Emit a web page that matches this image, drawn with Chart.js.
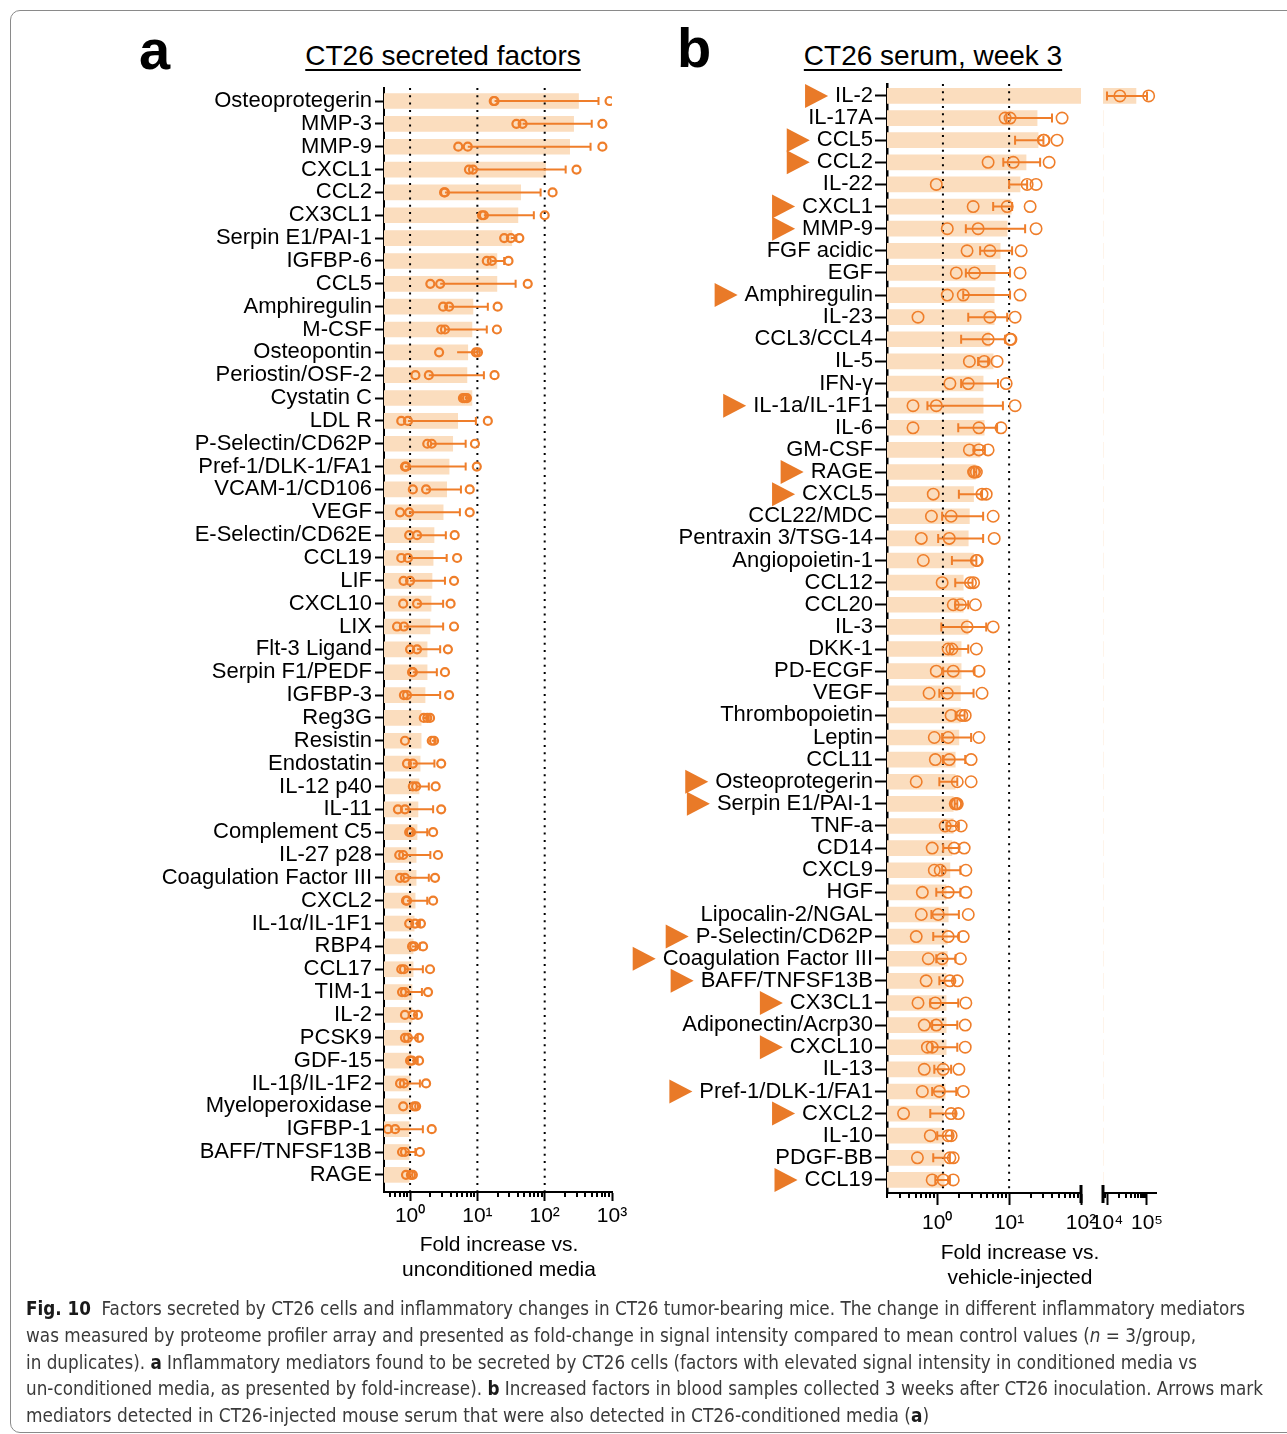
<!DOCTYPE html>
<html>
<head>
<meta charset="utf-8">
<script src="https://cdn.jsdelivr.net/npm/chart.js@4.4.0/dist/chart.umd.min.js"></script>
<style>
  body { margin: 0; background: #fff; width: 1287px; height: 1434px; position: relative; overflow: hidden;
         font-family: "Liberation Sans", Arial, sans-serif; color: #000; }
  .frame { position: absolute; left: 10px; top: 10px; width: 1290px; height: 1421px; border: 1px solid #8a8a8a; border-radius: 10px; }
  .box { position: absolute; top: 0; height: 1300px; }
  .letter { position: absolute; font-weight: bold; font-size: 56px; line-height: 56px; }
  .title { position: absolute; font-size: 28px; line-height: 28px; transform: translateX(-50%); white-space: nowrap;
           text-decoration: underline; text-decoration-thickness: 2px; text-underline-offset: 4px; }
  .axtitle { position: absolute; font-size: 21px; line-height: 25px; text-align: center; transform: translateX(-50%); white-space: nowrap; }
  .caption { position: absolute; left: 26px; top: 1295px; font-family: "Liberation Sans Narrow", "DejaVu Sans Condensed", sans-serif;
             font-size: 19px; line-height: 26.75px; color: #3a3a3a; }
  .caption div { white-space: nowrap; }
  .caption span.l { display: inline-block; transform-origin: 0 0; }
  .caption b { color: #1a1a1a; }
</style>
</head>
<body>
<div class="frame"></div>

<div class="letter" style="left:139px; top:22px;">a</div>
<div class="title" style="left:443px; top:42px;">CT26 secreted factors</div>
<div class="letter" style="left:677px; top:20px;">b</div>
<div class="title" style="left:933px; top:42px;">CT26 serum, week 3</div>

<div class="box" style="left:0; width:640px;"><canvas id="chartA" width="640" height="1300"></canvas></div>
<div class="box" style="left:600px; width:520px;"><canvas id="chartB" width="520" height="1300"></canvas></div>
<div class="box" style="left:1070px; width:120px;"><canvas id="chartB2" width="120" height="1300"></canvas></div>

<div class="axtitle" style="left:499px; top:1231px;">Fold increase vs.<br>unconditioned media</div>
<div class="axtitle" style="left:1020px; top:1239px;">Fold increase vs.<br>vehicle-injected</div>

<div class="caption">
  <div><span class="l" data-w="1219"><b>Fig. 10</b>&nbsp; Factors secreted by CT26 cells and inflammatory changes in CT26 tumor-bearing mice. The change in different inflammatory mediators</span></div>
  <div><span class="l" data-w="1170">was measured by proteome profiler array and presented as fold-change in signal intensity compared to mean control values (<i>n</i> = 3/group,</span></div>
  <div><span class="l" data-w="1171">in duplicates). <b>a</b> Inflammatory mediators found to be secreted by CT26 cells (factors with elevated signal intensity in conditioned media vs</span></div>
  <div><span class="l" data-w="1237">un-conditioned media, as presented by fold-increase). <b>b</b> Increased factors in blood samples collected 3 weeks after CT26 inoculation. Arrows mark</span></div>
  <div><span class="l" data-w="903">mediators detected in CT26-injected mouse serum that were also detected in CT26-conditioned media (<b>a</b>)</span></div>
</div>

<script>
// Panel a: CT26 secreted factors
const namesA = ["Osteoprotegerin", "MMP-3", "MMP-9", "CXCL1", "CCL2", "CX3CL1", "Serpin E1/PAI-1", "IGFBP-6", "CCL5",
  "Amphiregulin", "M-CSF", "Osteopontin", "Periostin/OSF-2", "Cystatin C", "LDL R", "P-Selectin/CD62P", "Pref-1/DLK-1/FA1",
  "VCAM-1/CD106", "VEGF", "E-Selectin/CD62E", "CCL19", "LIF", "CXCL10", "LIX", "Flt-3 Ligand", "Serpin F1/PEDF", "IGFBP-3",
  "Reg3G", "Resistin", "Endostatin", "IL-12 p40", "IL-11", "Complement C5", "IL-27 p28", "Coagulation Factor III", "CXCL2",
  "IL-1α/IL-1F1", "RBP4", "CCL17", "TIM-1", "IL-2", "PCSK9", "GDF-15", "IL-1β/IL-1F2", "Myeloperoxidase", "IGFBP-1",
  "BAFF/TNFSF13B", "RAGE"];
const barsA = [318, 269, 235, 103, 44, 40, 32.5, 19.5, 19.5, 8.6, 8.3, 7.2, 7.0, 8.3, 5.1, 4.3, 3.8, 3.5, 3.1, 2.27, 2.2,
  2.12, 2.05, 1.98, 1.79, 1.79, 1.67, 1.46, 1.46, 1.41, 1.36, 1.31, 1.27, 1.23, 1.23, 1.19, 1.15, 1.11, 1.11, 1.07, 1.07,
  1.03, 1.03, 1.0, 1.0, 0.97, 0.97, 0.97];
const pointsA = [[18, 17.5, 920], [47, 38, 720], [5.2, 7.2, 720], [8.6, 7.5, 297], [3.3, 3.2, 131], [12.5, 11.7, 100],
  [31.5, 25, 42], [16.4, 13.8, 29], [2.8, 2.0, 56], [3.8, 3.1, 20], [3.3, 2.9, 19.5], [2.7, 9.5, 10.2], [1.2, 1.9, 18],
  [6.5, 6.1, 7.0], [0.93, 0.74, 14.3], [2.1, 1.8, 9.2], [0.87, 0.84, 9.8], [1.1, 1.73, 7.7], [0.97, 0.71, 7.7],
  [1.27, 0.97, 4.6], [0.93, 0.74, 5.0], [1.0, 0.8, 4.5], [0.79, 1.27, 4.0], [0.81, 0.64, 4.5], [1.27, 1.0, 3.65],
  [1.07, 1.1, 3.3], [0.9, 0.81, 3.8], [1.6, 1.8, 1.98], [0.84, 2.1, 2.27], [1.1, 0.9, 2.9], [1.23, 1.1, 2.4],
  [0.84, 0.66, 2.9], [1.03, 0.97, 2.2], [0.79, 0.69, 2.6], [0.84, 0.71, 2.35], [0.9, 0.87, 2.2], [1.19, 0.97, 1.45],
  [1.07, 1.15, 1.56], [0.74, 0.81, 1.98], [0.84, 0.76, 1.85], [1.1, 0.84, 1.31], [0.84, 0.93, 1.36], [1.07, 1.0, 1.36],
  [0.81, 0.71, 1.73], [0.79, 1.15, 1.23], [0.47, 0.6, 2.1], [0.84, 0.76, 1.4], [1.03, 0.87, 1.1]];
const errLoA = [18, 47, 7.2, 8.6, 3.3, 12.5, 31.5, 16.4, 2.8, 3.8, 3.3, 5, 1.9, 6.5, 0.93, 2.1, 0.84, 1.73, 0.97, 1.27,
  0.93, 1.0, 1.27, 0.81, 1.27, 1.1, 0.9, 1.6, 2.1, 1.1, 1.23, 0.84, 1.03, 0.79, 0.84, 0.9, 1.19, 1.07, 0.81, 0.84, 1.1,
  0.93, 1.07, 0.81, 1.15, 0.6, 0.84, 1.03];
const errHiA = [630, 500, 480, 205, 87, 69, 38, 25, 37, 14.3, 13.8, 10, 12.5, 7.5, 9.5, 6.7, 6.7, 5.7, 5.5, 3.4, 3.5, 3.3,
  3.1, 3.1, 2.8, 2.5, 2.8, 1.9, 2.3, 2.3, 1.9, 2.2, 1.8, 2.0, 1.9, 1.8, 1.4, 1.4, 1.55, 1.5, 1.25, 1.3, 1.3, 1.4, 1.2,
  1.55, 1.2, 1.08];
const refLinesA = [1, 10, 100];
const majorTicksA = [1, 10, 100, 1000];

// Panel b: CT26 serum, week 3
const namesB = ["IL-2", "IL-17A", "CCL5", "CCL2", "IL-22", "CXCL1", "MMP-9", "FGF acidic", "EGF", "Amphiregulin", "IL-23",
  "CCL3/CCL4", "IL-5", "IFN-γ", "IL-1a/IL-1F1", "IL-6", "GM-CSF", "RAGE", "CXCL5", "CCL22/MDC", "Pentraxin 3/TSG-14",
  "Angiopoietin-1", "CCL12", "CCL20", "IL-3", "DKK-1", "PD-ECGF", "VEGF", "Thrombopoietin", "Leptin", "CCL11",
  "Osteoprotegerin", "Serpin E1/PAI-1", "TNF-a", "CD14", "CXCL9", "HGF", "Lipocalin-2/NGAL", "P-Selectin/CD62P",
  "Coagulation Factor III", "BAFF/TNFSF13B", "CX3CL1", "Adiponectin/Acrp30", "CXCL10", "IL-13", "Pref-1/DLK-1/FA1",
  "CXCL2", "IL-10", "PDGF-BB", "CCL19"];
const barsB = [53000, 24.5, 25.3, 17.2, 14.2, 10.7, 9.4, 7.5, 6.4, 6.2, 6.2, 5.4, 6.0, 4.35, 4.35, 4.5, 3.95, 3.4, 3.2,
  2.8, 2.7, 3.2, 2.3, 2.3, 2.7, 2.15, 2.15, 2.1, 2.1, 2.0, 1.78, 1.78, 1.67, 1.67, 1.6, 1.5, 1.33, 1.42, 1.38, 1.38,
  1.33, 1.33, 1.33, 1.33, 1.29, 1.29, 1.21, 1.21, 1.25, 1.25];
const pointsB = [[21000, 110000], [10.3, 8.8, 54.5], [30.6, 30, 46.4], [5.1, 11.4, 36], [0.97, 17.8, 23.7],
  [3.16, 9.4, 19.6], [1.38, 3.7, 23.7], [2.6, 5.4, 14.7], [1.84, 3.3, 14.2], [1.38, 2.3, 14.2], [0.54, 5.4, 12.1],
  [5.1, 10.3, 10.6], [2.8, 4.5, 6.8], [1.5, 2.7, 9.1], [0.46, 0.97, 12.1], [0.46, 3.8, 7.7], [2.8, 3.8, 5.1],
  [3.3, 3.5, 3.2], [0.88, 4.2, 4.8], [0.83, 1.56, 6.0], [0.6, 1.47, 6.2], [0.64, 3.5, 3.6], [1.17, 2.9, 3.2],
  [1.67, 2.1, 3.4], [2.6, 6.0], [1.42, 1.6, 3.5], [0.97, 1.67, 3.8], [0.77, 1.38, 4.2], [1.56, 2.2, 2.45],
  [0.91, 1.42, 3.8], [0.94, 1.47, 2.96], [0.51, 1.9, 2.96], [1.78, 1.84, 1.9], [1.29, 1.6, 2.15], [0.85, 1.72, 2.37],
  [0.91, 1.1, 2.5], [0.62, 1.42, 2.5], [0.6, 1.03, 2.7], [0.51, 1.42, 2.3], [0.75, 1.17, 2.1], [0.7, 1.5, 1.9],
  [0.54, 0.94, 2.5], [0.66, 0.97, 2.45], [0.73, 0.85, 2.45], [0.66, 1.21, 2.0], [0.62, 1.07, 2.3], [0.34, 1.56, 1.96],
  [0.8, 1.42, 1.56], [0.53, 1.5, 1.67], [0.85, 1.21, 1.67]];
const errLoB = [10000, 9.2, 12.1, 8.3, 10, 6.0, 2.5, 3.95, 2.5, 2.3, 2.7, 2.15, 3.7, 2.15, 0.73, 1.96, 3.2, 3.25, 2.0,
  1.17, 1.03, 1.6, 1.78, 1.78, 1.14, 1.5, 1.21, 1.07, 1.8, 1.17, 1.2, 1.07, 1.75, 1.35, 1.21, 1.17, 0.97, 0.83, 0.88,
  0.97, 1.07, 0.8, 0.85, 0.85, 0.91, 0.85, 0.8, 1.0, 0.88, 0.94];
const errHiB = [100000, 39.5, 30, 27, 17.8, 11, 16.7, 11, 10.3, 10.3, 9.4, 8.8, 5.1, 7.0, 8.2, 6.8, 4.6, 3.5, 4.2, 4.35,
  4.35, 3.5, 3.1, 2.7, 4.8, 2.7, 3.3, 3.2, 2.4, 2.96, 2.45, 1.9, 1.9, 2.0, 2.0, 2.1, 2.1, 2.0, 2.0, 1.8, 1.7, 1.96,
  1.9, 1.9, 1.56, 1.84, 1.78, 1.6, 1.5, 1.5];
const markedB = ["IL-2", "CCL5", "CCL2", "CXCL1", "MMP-9", "Amphiregulin", "IL-1a/IL-1F1", "RAGE", "CXCL5",
  "Osteoprotegerin", "Serpin E1/PAI-1", "P-Selectin/CD62P", "Coagulation Factor III", "BAFF/TNFSF13B", "CX3CL1",
  "CXCL10", "Pref-1/DLK-1/FA1", "CXCL2", "CCL19"];
const refLinesB = [1.2, 10];
const majorTicksB = [1, 10, 100, 10000, 100000];

const orange = "#EF7E2A";
const barColor = "#FBDDBE";
const arrowColor = "#E97A28";
const fontFamily = "'Liberation Sans', Arial, sans-serif";
const sup = { 0: "⁰", 1: "¹", 2: "²", 3: "³", 4: "⁴", 5: "⁵" };

function powLabel(v) {
  return "10" + sup[Math.round(Math.log10(v))];
}

// dotted reference lines + error bars, drawn after the bars but under the points
const extras = {
  id: "extras",
  afterDatasetDraw(chart, args, o) {
    if (args.index !== 0) return;
    const { ctx, chartArea: a, scales: { x, y } } = chart;
    ctx.save();
    ctx.beginPath();
    ctx.rect(a.left, a.top - 6, a.right - a.left, a.bottom - a.top + 12);
    ctx.clip();
    ctx.strokeStyle = "#000";
    ctx.lineWidth = 2;
    ctx.setLineDash([2, 5.3]);
    o.refs.forEach(v => {
      const px = x.getPixelForValue(v);
      if (px < a.left || px > a.right) return;
      ctx.beginPath();
      ctx.moveTo(px, a.top);
      ctx.lineTo(px, a.bottom);
      ctx.stroke();
    });
    ctx.setLineDash([]);
    ctx.strokeStyle = orange;
    ctx.lineWidth = o.errWidth;
    o.lo.forEach((lo, i) => {
      const yy = y.getPixelForValue(i);
      const x0 = x.getPixelForValue(lo), x1 = x.getPixelForValue(o.hi[i]);
      ctx.beginPath();
      ctx.moveTo(x0, yy);
      ctx.lineTo(x1, yy);
      ctx.moveTo(x1, yy - o.cap);
      ctx.lineTo(x1, yy + o.cap);
      if (o.capLo) {
        ctx.moveTo(x0, yy - o.cap);
        ctx.lineTo(x0, yy + o.cap);
      }
      ctx.stroke();
    });
    ctx.restore();
  }
};

// minor log ticks, axis break marks and the arrow markers
const axisExtras = {
  id: "axisExtras",
  afterDraw(chart, args, o) {
    const { ctx, chartArea: a, scales: { x, y } } = chart;
    ctx.save();
    ctx.strokeStyle = "#000";
    ctx.lineWidth = 2;
    const k0 = Math.floor(Math.log10(x.min)), k1 = Math.ceil(Math.log10(x.max));
    for (let k = k0; k <= k1; k++) {
      for (let m = 2; m <= 9; m++) {
        const v = m * Math.pow(10, k);
        if (v < x.min || v > x.max) continue;
        const px = Math.round(x.getPixelForValue(v));
        ctx.beginPath();
        ctx.moveTo(px, a.bottom);
        ctx.lineTo(px, a.bottom + o.minorLen);
        ctx.stroke();
      }
    }
    ctx.lineWidth = 3;
    (o.breaks || []).forEach(side => {
      const px = side === "right" ? a.right : a.left;
      ctx.beginPath();
      ctx.moveTo(px, a.bottom - 8);
      ctx.lineTo(px, a.bottom + 10);
      ctx.stroke();
    });
    if (o.marks) {
      ctx.fillStyle = arrowColor;
      ctx.font = "22px " + fontFamily;
      const right = y.right - o.labelGap;
      o.marks.forEach(name => {
        const i = o.names.indexOf(name);
        const yy = y.getPixelForValue(i);
        const tip = right - ctx.measureText(name).width - 7;
        ctx.beginPath();
        ctx.moveTo(tip, yy);
        ctx.lineTo(tip - 23, yy - 12);
        ctx.lineTo(tip - 23, yy + 12);
        ctx.closePath();
        ctx.fill();
      });
    }
    ctx.restore();
  }
};

function makeChart(id, names, bars, pts, lo, hi, s) {
  const points = [];
  pts.forEach((row, i) => row.forEach(v => points.push({ x: v, y: i })));
  return new Chart(document.getElementById(id), {
    type: "bar",
    data: {
      datasets: [
        { data: bars.map((v, i) => ({ x: v, y: i })), backgroundColor: barColor, barThickness: 15, order: 2 },
        { type: "scatter", data: points, order: 1, pointRadius: s.r, pointHoverRadius: s.r,
          pointBorderWidth: s.bw, borderColor: orange, backgroundColor: "rgba(0,0,0,0)" }
      ]
    },
    options: {
      indexAxis: "y",
      responsive: false,
      animation: false,
      events: [],
      layout: { padding: s.pad },
      plugins: {
        legend: { display: false },
        tooltip: { enabled: false },
        extras: { refs: s.refs, lo: lo, hi: hi, cap: s.cap, capLo: s.capLo, errWidth: s.errWidth },
        axisExtras: { minorLen: s.minorLen, breaks: s.breaks, marks: s.marks, names: names, labelGap: s.yTick + s.yPad }
      },
      scales: {
        x: {
          type: "logarithmic", min: s.min, max: s.max, offset: false,
          afterBuildTicks: ax => {
            ax.ticks = s.majors.filter(v => v >= ax.min && v <= ax.max).map(v => ({ value: v }));
          },
          afterFit: ax => { ax.height = 40; },
          grid: { display: true, drawOnChartArea: false, drawTicks: true, offset: false,
                  tickLength: s.majorLen, tickWidth: 2, tickColor: "#000" },
          border: { display: true, color: "#000", width: 2 },
          ticks: { callback: v => powLabel(v), autoSkip: false, maxRotation: 0, padding: s.xPad,
                   color: "#000", font: { family: fontFamily, size: 21 } }
        },
        y: {
          type: "linear", reverse: true, min: s.yMin, max: s.yMax, offset: false, display: s.showY,
          afterBuildTicks: ax => { ax.ticks = names.map((n, i) => ({ value: i })); },
          afterFit: ax => { ax.width = s.yWidth; },
          grid: { display: true, drawOnChartArea: false, drawTicks: true, offset: false,
                  tickLength: s.yTick, tickWidth: 2, tickColor: "#000" },
          border: { display: true, color: "#000", width: s.yBorder },
          ticks: { callback: v => names[v], autoSkip: false, padding: s.yPad,
                   color: "#000", font: { family: fontFamily, size: 22 } }
        }
      }
    },
    plugins: [extras, axisExtras]
  });
}

makeChart("chartA", namesA, barsA, pointsA, errLoA, errHiA, {
  min: 0.41, max: 1000, majors: majorTicksA, refs: refLinesA,
  yMin: -0.57, yMax: 47.75, yWidth: 384, showY: true, yTick: 9, yPad: 3, yBorder: 2,
  pad: { left: 0, right: 28, top: 88, bottom: 68 },
  r: 4, bw: 2.2, cap: 4, capLo: false, errWidth: 2, majorLen: 9, minorLen: 5, xPad: 3
});

const optsB = {
  majors: majorTicksB, refs: refLinesB,
  yMin: -0.54, yMax: 49.59, yTick: 12, yPad: 2, yBorder: 2.5,
  r: 5.7, bw: 1.6, cap: 4.5, capLo: true, errWidth: 2, majorLen: 12, minorLen: 5, xPad: 6
};

makeChart("chartB", namesB, barsB, pointsB, errLoB, errHiB, Object.assign({}, optsB, {
  min: 0.2, max: 100, yWidth: 287, showY: true, breaks: ["right"], marks: markedB,
  pad: { left: 0, right: 39, top: 84, bottom: 67 }
}));

makeChart("chartB2", namesB, barsB, pointsB, errLoB, errHiB, Object.assign({}, optsB, {
  min: 7943, max: 167900, yWidth: 0, showY: false, breaks: ["left"], refs: [],
  pad: { left: 33, right: 34, top: 84, bottom: 67 }
}));

// stretch each caption line to the width it has in the figure
function fitCaption() {
  document.querySelectorAll(".caption span.l").forEach(el => {
    el.style.transform = "none";
    const w = el.getBoundingClientRect().width;
    el.style.transform = "scaleX(" + (parseFloat(el.dataset.w) / w) + ")";
  });
}
fitCaption();
if (document.fonts) document.fonts.ready.then(fitCaption);
</script>
</body>
</html>
